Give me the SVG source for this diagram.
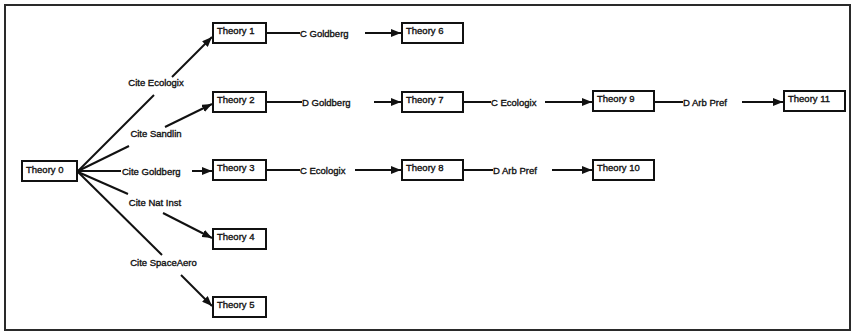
<svg xmlns="http://www.w3.org/2000/svg" width="853" height="332" viewBox="0 0 853 332">
  <style>
    .frame { fill: #ffffff; stroke: #2a2a2a; stroke-width: 2; }
    .box { fill: #ffffff; stroke: #111111; stroke-width: 2; }
    .name, .lbl { font-family: "Liberation Sans", Arial, sans-serif; font-size: 9.5px; fill: #111111; stroke: #111111; stroke-width: 0.35; }
    .edge { fill: none; stroke: #111111; stroke-width: 2; }
  </style>
  <defs>
    <marker id="arrow" viewBox="0 0 10 8" refX="10" refY="4" markerWidth="10" markerHeight="8" markerUnits="userSpaceOnUse" orient="auto">
      <path d="M0,0 L10,4 L0,8 Z" fill="#111111"/>
    </marker>
  </defs>

  <rect class="frame" x="5" y="5" width="845" height="325"/>

  <!-- connectors: each edge is cut around its label -->
  <g id="connectors">
    <!-- from Theory 0 -->
    <line class="edge" x1="78" y1="171" x2="154" y2="95"/>
    <text class="lbl" x="156" y="85.5" text-anchor="middle">Cite Ecologix</text>
    <line class="edge" x1="172" y1="77" x2="212" y2="37" marker-end="url(#arrow)"/>

    <line class="edge" x1="78" y1="171" x2="129" y2="146"/>
    <text class="lbl" x="156" y="136.5" text-anchor="middle">Cite Sandlin</text>
    <line class="edge" x1="165" y1="127" x2="212" y2="104" marker-end="url(#arrow)"/>

    <line class="edge" x1="78" y1="171" x2="121" y2="171"/>
    <text class="lbl" x="122" y="174.5">Cite Goldberg</text>
    <line class="edge" x1="192" y1="171" x2="212" y2="171" marker-end="url(#arrow)"/>

    <line class="edge" x1="78" y1="172" x2="128" y2="194"/>
    <text class="lbl" x="155" y="205.5" text-anchor="middle">Cite Nat Inst</text>
    <line class="edge" x1="163" y1="213" x2="212" y2="238" marker-end="url(#arrow)"/>

    <line class="edge" x1="78" y1="172" x2="162" y2="255"/>
    <text class="lbl" x="163.5" y="265.5" text-anchor="middle">Cite SpaceAero</text>
    <line class="edge" x1="181" y1="275" x2="212" y2="306" marker-end="url(#arrow)"/>

    <!-- Theory 1 to Theory 6 -->
    <line class="edge" x1="267" y1="33" x2="300" y2="33"/>
    <text class="lbl" x="300" y="36.5">C Goldberg</text>
    <line class="edge" x1="365" y1="33" x2="401" y2="33" marker-end="url(#arrow)"/>

    <!-- Theory 2 to Theory 7 to Theory 9 to Theory 11 -->
    <line class="edge" x1="267" y1="102" x2="302" y2="102"/>
    <text class="lbl" x="302" y="105.5">D Goldberg</text>
    <line class="edge" x1="374" y1="102" x2="401" y2="102" marker-end="url(#arrow)"/>

    <line class="edge" x1="464" y1="102" x2="491" y2="102"/>
    <text class="lbl" x="491" y="105.5">C Ecologix</text>
    <line class="edge" x1="545" y1="102" x2="592" y2="102" marker-end="url(#arrow)"/>

    <line class="edge" x1="655" y1="102" x2="683" y2="102"/>
    <text class="lbl" x="683" y="105.5">D Arb Pref</text>
    <line class="edge" x1="742" y1="102" x2="783" y2="102" marker-end="url(#arrow)"/>

    <!-- Theory 3 to Theory 8 to Theory 10 -->
    <line class="edge" x1="267" y1="170" x2="300" y2="170"/>
    <text class="lbl" x="300" y="173.5">C Ecologix</text>
    <line class="edge" x1="355" y1="170" x2="401" y2="170" marker-end="url(#arrow)"/>

    <line class="edge" x1="464" y1="170" x2="493" y2="170"/>
    <text class="lbl" x="493" y="173.5">D Arb Pref</text>
    <line class="edge" x1="552" y1="170" x2="592" y2="170" marker-end="url(#arrow)"/>
  </g>

  <!-- nodes -->
  <g id="theory0"><rect class="box" x="22" y="161" width="55" height="20"/><text class="name" x="26" y="173">Theory 0</text></g>
  <g id="theory1"><rect class="box" x="213" y="23" width="53" height="20"/><text class="name" x="217" y="34">Theory 1</text></g>
  <g id="theory2"><rect class="box" x="213" y="92" width="53" height="20"/><text class="name" x="217" y="103">Theory 2</text></g>
  <g id="theory3"><rect class="box" x="213" y="160" width="53" height="20"/><text class="name" x="217" y="171">Theory 3</text></g>
  <g id="theory4"><rect class="box" x="213" y="229" width="53" height="20"/><text class="name" x="217" y="240">Theory 4</text></g>
  <g id="theory5"><rect class="box" x="213" y="297" width="53" height="20"/><text class="name" x="217" y="308">Theory 5</text></g>
  <g id="theory6"><rect class="box" x="402" y="23" width="61" height="20"/><text class="name" x="406" y="34">Theory 6</text></g>
  <g id="theory7"><rect class="box" x="402" y="92" width="61" height="20"/><text class="name" x="406" y="103">Theory 7</text></g>
  <g id="theory8"><rect class="box" x="402" y="160" width="61" height="20"/><text class="name" x="406" y="171">Theory 8</text></g>
  <g id="theory9"><rect class="box" x="593" y="91" width="61" height="20"/><text class="name" x="597" y="102">Theory 9</text></g>
  <g id="theory10"><rect class="box" x="593" y="160" width="61" height="20"/><text class="name" x="597" y="171">Theory 10</text></g>
  <g id="theory11"><rect class="box" x="784" y="91" width="61" height="20"/><text class="name" x="788" y="102">Theory 11</text></g>
</svg>
